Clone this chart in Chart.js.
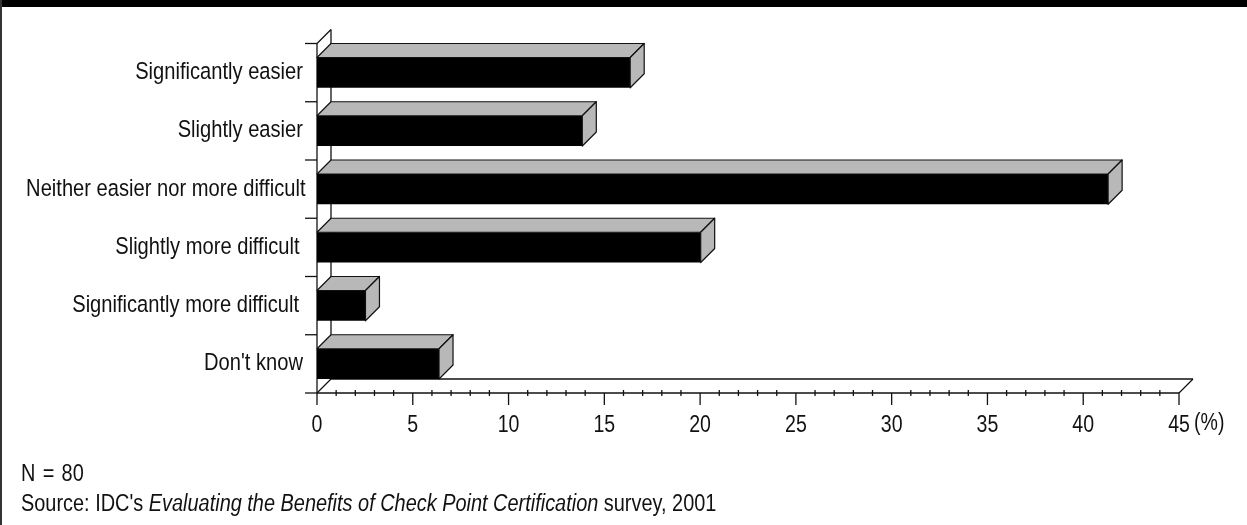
<!DOCTYPE html>
<html><head><meta charset="utf-8">
<style>
html,body{margin:0;padding:0;background:#fff;overflow:hidden}
#wrap{position:relative;width:1247px;height:525px}
#top{position:absolute;left:0;top:0;width:1247px;height:7px;background:#000}
#left{position:absolute;left:0;top:0;width:2px;height:525px;background:#333}
canvas{position:absolute;left:0;top:0}
.note{position:absolute;left:21px;font:23px "Liberation Sans",sans-serif;color:#111;white-space:nowrap;transform:scaleX(.866);transform-origin:0 0}
</style>
<script src="https://cdn.jsdelivr.net/npm/chart.js@4"></script>
</head><body>
<div id="wrap">
<canvas id="c" width="1247" height="525"></canvas>
<div id="top"></div><div id="left"></div>
<div class="note" style="top:460px;word-spacing:2px">N = 80</div>
<div class="note" style="top:490px">Source: IDC's <i>Evaluating the Benefits of Check Point Certification</i> survey, 2001</div>
</div>
<script>
const categories = ["Significantly easier","Slightly easier","Neither easier nor more difficult","Slightly more difficult","Significantly more difficult","Don't know"];
const percentValues = [16.35,13.85,41.3,20.03,2.53,6.37];
const axisMax = 45;
const labelledStep = 5;
const labelNudge = {"Neither easier nor more difficult":2.5,"Slightly more difficult":-3.5,"Significantly more difficult":-4};

const FONT = '"Liberation Sans",sans-serif';
const DEPTH = 14, INK = '#111', SIDE = '#b8b8b8', CONDENSE = 0.85;

function line(ctx, x1, y1, x2, y2){ctx.beginPath();ctx.moveTo(x1,y1);ctx.lineTo(x2,y2);ctx.stroke();}

const canvas = document.getElementById('c');
const rawCtx = canvas.getContext('2d');
const rawFillText = rawCtx.fillText;
// The reference type is a condensed grotesque: squeeze all canvas text horizontally.
rawCtx.fillText = function(t,x,y){
  this.save();
  this.translate(x+(labelNudge[t]||0),y);
  this.scale(CONDENSE,1);
  rawFillText.call(this,t,0,0);
  this.restore();
};

const depth3d = {
  id:'depth3d',
  beforeDatasetsDraw(chart){
    const {ctx,chartArea:a,scales:{x}} = chart;
    ctx.save();ctx.strokeStyle=INK;ctx.lineWidth=1.3;
    line(ctx,a.left,a.top,a.left+DEPTH,a.top-DEPTH);
    line(ctx,a.left+DEPTH,a.top-DEPTH,a.left+DEPTH,a.bottom-DEPTH);
    line(ctx,a.left,a.bottom,a.left+DEPTH,a.bottom-DEPTH);
    line(ctx,a.left+DEPTH,a.bottom-DEPTH,a.right+DEPTH,a.bottom-DEPTH);
    line(ctx,a.right,a.bottom,a.right+DEPTH,a.bottom-DEPTH);
    line(ctx,a.left,a.top,a.left,a.bottom);
    line(ctx,a.left,a.bottom,a.right,a.bottom);
    const n = categories.length;
    for(let i=0;i<=n;i++){
      const py = a.top+(a.bottom-a.top)*i/n;
      line(ctx,a.left-12,py,a.left,py);
    }
    for(let v=0;v<=axisMax;v++){
      const px = x.getPixelForValue(v);
      if(v%labelledStep===0) line(ctx,px,a.bottom,px,a.bottom+12);
      else line(ctx,px,a.bottom-3,px,a.bottom+3);
    }
    ctx.restore();
  },
  afterDatasetsDraw(chart){
    const {ctx} = chart;
    ctx.save();ctx.strokeStyle=INK;ctx.lineWidth=1.2;ctx.lineJoin='round';ctx.fillStyle=SIDE;
    chart.getDatasetMeta(0).data.forEach(b=>{
      const l=b.base,r=b.x,t=b.y-b.height/2,bt=b.y+b.height/2;
      ctx.beginPath();ctx.moveTo(l,t);ctx.lineTo(l+DEPTH,t-DEPTH);ctx.lineTo(r+DEPTH,t-DEPTH);ctx.lineTo(r,t);ctx.closePath();ctx.fill();ctx.stroke();
      ctx.beginPath();ctx.moveTo(r,t);ctx.lineTo(r+DEPTH,t-DEPTH);ctx.lineTo(r+DEPTH,bt-DEPTH);ctx.lineTo(r,bt);ctx.closePath();ctx.fill();ctx.stroke();
    });
    ctx.restore();
  },
  afterDraw(chart){
    const {ctx,chartArea:a} = chart;
    ctx.save();ctx.fillStyle=INK;ctx.font='23px '+FONT;ctx.textAlign='left';ctx.textBaseline='middle';
    ctx.fillText('(%)',a.right+15,424);
    ctx.restore();
  }
};

new Chart(canvas,{
  type:'bar',
  data:{labels:categories,datasets:[{data:percentValues,backgroundColor:'#000',borderWidth:0,barPercentage:0.52,categoryPercentage:1}]},
  plugins:[depth3d],
  options:{
    indexAxis:'y',responsive:false,animation:false,
    layout:{padding:{left:0,right:68,top:43.5,bottom:0}},
    plugins:{legend:{display:false},tooltip:{enabled:false}},
    scales:{
      x:{min:0,max:axisMax,
        grid:{display:false,drawTicks:false},border:{display:false},
        afterFit(s){s.height=132;},
        ticks:{stepSize:1,autoSkip:false,maxRotation:0,padding:19,color:INK,font:{family:FONT,size:23},
          callback:v=>v%labelledStep===0?String(v):''}},
      y:{grid:{display:false,drawTicks:false},border:{display:false},
        afterFit(s){s.width=317;},
        ticks:{padding:14,color:INK,autoSkip:false,font:{family:FONT,size:23.7}}}
    }
  }
});
</script>
</body></html>
